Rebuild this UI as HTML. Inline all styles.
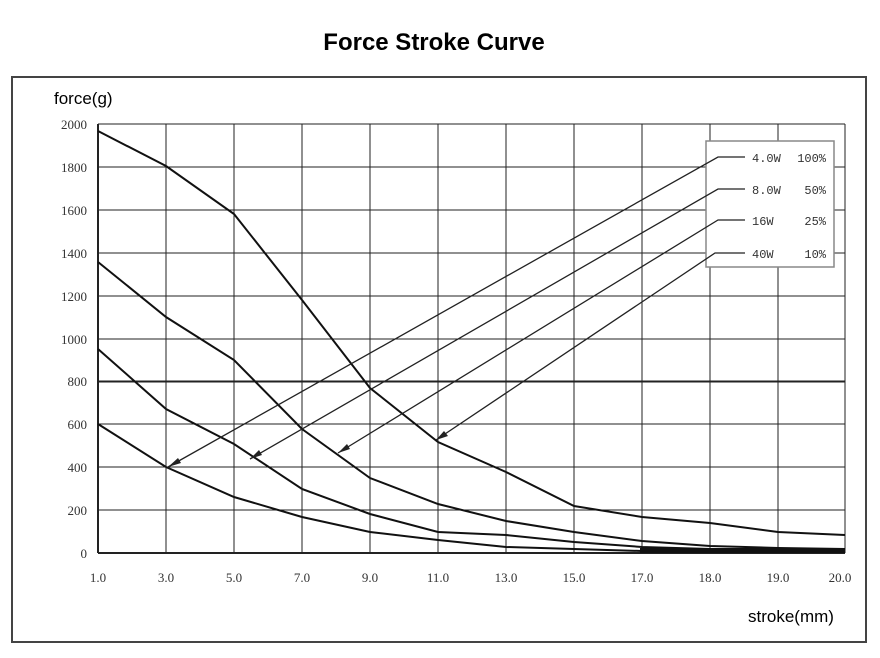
<!DOCTYPE html><html><head><style>body{margin:0;background:#fff}</style></head><body>
<svg width="880" height="653" xmlns="http://www.w3.org/2000/svg">
<text x="434" y="50" text-anchor="middle" font-family="Liberation Sans, sans-serif" font-weight="bold" font-size="24">Force Stroke Curve</text>
<rect x="12" y="77" width="854" height="565" fill="none" stroke="#444" stroke-width="2"/>
<text x="54" y="104" font-family="Liberation Sans, sans-serif" font-size="17">force(g)</text>
<text x="748" y="622" font-family="Liberation Sans, sans-serif" font-size="17">stroke(mm)</text>
<g stroke="#222" stroke-width="1">
<line x1="98" y1="124" x2="845" y2="124"/><line x1="98" y1="167" x2="845" y2="167"/><line x1="98" y1="210" x2="845" y2="210"/><line x1="98" y1="253" x2="845" y2="253"/><line x1="98" y1="296" x2="845" y2="296"/><line x1="98" y1="339" x2="845" y2="339"/><line x1="98" y1="424" x2="845" y2="424"/><line x1="98" y1="467" x2="845" y2="467"/><line x1="98" y1="510" x2="845" y2="510"/>
<line x1="98" y1="381.5" x2="845" y2="381.5" stroke-width="2"/>
<line x1="98" y1="553" x2="845" y2="553" stroke-width="2"/>
<line x1="98" y1="124" x2="98" y2="553" stroke-width="2"/>
<line x1="166" y1="124" x2="166" y2="553"/><line x1="234" y1="124" x2="234" y2="553"/><line x1="302" y1="124" x2="302" y2="553"/><line x1="370" y1="124" x2="370" y2="553"/><line x1="438" y1="124" x2="438" y2="553"/><line x1="506" y1="124" x2="506" y2="553"/><line x1="574" y1="124" x2="574" y2="553"/><line x1="642" y1="124" x2="642" y2="553"/><line x1="710" y1="124" x2="710" y2="553"/><line x1="778" y1="124" x2="778" y2="553"/><line x1="845" y1="124" x2="845" y2="553"/>
</g>
<g font-family="Liberation Serif, serif" font-size="13" fill="#333" text-anchor="end">
<text x="87" y="129">2000</text><text x="87" y="172">1800</text><text x="87" y="215">1600</text><text x="87" y="258">1400</text><text x="87" y="301">1200</text><text x="87" y="344">1000</text><text x="87" y="386">800</text><text x="87" y="429">600</text><text x="87" y="472">400</text><text x="87" y="515">200</text><text x="87" y="558">0</text>
</g>
<g font-family="Liberation Serif, serif" font-size="13" fill="#333" text-anchor="middle">
<text x="98" y="582">1.0</text><text x="166" y="582">3.0</text><text x="234" y="582">5.0</text><text x="302" y="582">7.0</text><text x="370" y="582">9.0</text><text x="438" y="582">11.0</text><text x="506" y="582">13.0</text><text x="574" y="582">15.0</text><text x="642" y="582">17.0</text><text x="710" y="582">18.0</text><text x="778" y="582">19.0</text><text x="840" y="582">20.0</text>
</g>
<g fill="none" stroke="#111" stroke-width="2">
<polyline points="98,131 166,166 234,214 302,300 370,388 438,442 506,472 574,506 642,517 710,523 778,532 845,535"/>
<polyline points="98,262 166,317 234,360 302,429 370,478 438,504 506,521 574,532 642,541 710,546 778,548 845,549"/>
<polyline points="98,349 166,409 234,444 302,489 370,514 438,532 506,535 574,542 642,547 710,549 778,550 845,551"/>
<polyline points="98,424 166,467 234,497 302,517 370,532 438,540 506,547 574,549 642,551 710,551 778,552 845,552"/>
<rect x="640" y="548" width="205" height="5" fill="#111" stroke="none"/>
</g>
<rect x="706" y="141" width="128" height="126" fill="#fff" stroke="#888" stroke-width="1.5"/>
<g stroke="#222" stroke-width="1.3" fill="none">
<polyline points="745,157 718,157 168,467"/><polyline points="745,189 718,189 250,459"/><polyline points="745,220 718,220 338,453"/><polyline points="745,253 715,253 436,440"/>
</g>
<g fill="#222"><polygon points="168,467 178,458 181,463"/><polygon points="250,459 259,450 262,455"/><polygon points="338,453 347,444 350,449"/><polygon points="436,440 444,431 448,436"/></g>
<g font-family="Liberation Mono, monospace" font-size="12" fill="#333">
<text x="752" y="162">4.0W</text><text x="752" y="194">8.0W</text><text x="752" y="225">16W</text><text x="752" y="258">40W</text>
</g>
<g font-family="Liberation Mono, monospace" font-size="12" fill="#333" text-anchor="end">
<text x="826" y="162">100%</text><text x="826" y="194">50%</text><text x="826" y="225">25%</text><text x="826" y="258">10%</text>
</g>
</svg></body></html>
